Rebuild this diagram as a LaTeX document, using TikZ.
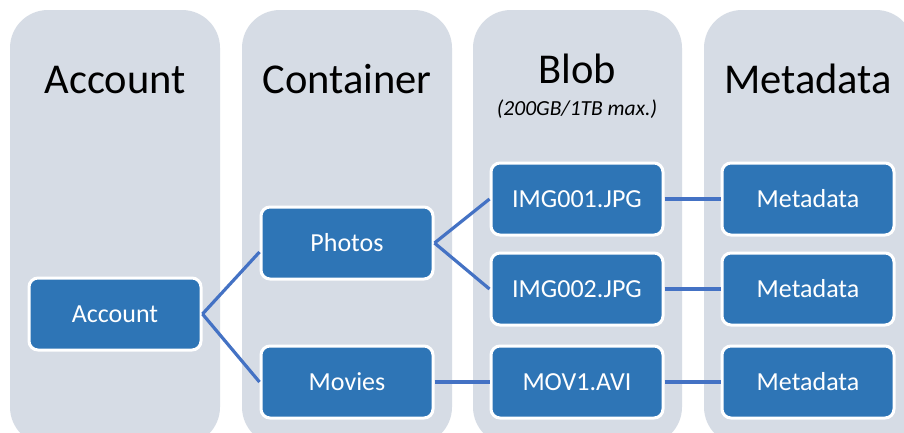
\documentclass[tikz,border=0pt]{standalone}
\usepackage{fontspec}
\setmainfont{Carlito}
\definecolor{colbg}{HTML}{D6DCE5}
\definecolor{nodeblue}{HTML}{2E75B6}
\definecolor{linkblue}{HTML}{4472C4}
\tikzset{
  colbox/.style={fill=colbg, draw=none, rounded corners=38pt},
  header/.style={anchor=base, text=black, font=\fontsize{42.5}{50}\selectfont, inner sep=0pt},
  subhead/.style={anchor=base, text=black, font=\fontsize{21.5}{26}\selectfont\itshape, inner sep=0pt},
  item/.style={rectangle, rounded corners=9pt, fill=nodeblue, draw=white, line width=3pt,
    minimum width=172pt, minimum height=72pt, text=white, font=\fontsize{26}{31}\selectfont, inner sep=0pt},
  link/.style={draw=linkblue, line width=3.2pt}
}
\begin{document}
\begin{tikzpicture}[x=1pt,y=-1pt]
\useasboundingbox (0,0) rectangle (904,432);
\clip (0,0) rectangle (904,432);
\fill[white] (0,0) rectangle (904,432);
% columns
\path[colbox] (10,10) rectangle (220,445);
\path[colbox] (242,10) rectangle (452,445);
\path[colbox] (473,10) rectangle (682,445);
\path[colbox] (704,10) rectangle (914,445);
% headers
\node[header] (hAcc) at (115,93) {Account};
\node[header] (hCon) at (347,93) {Container};
\node[header] (hBlob) at (577,83) {Blob};
\node[subhead] (hSub) at (577,115) {(200GB/1TB max.)};
\node[header] (hMeta) at (808,93) {Metadata};
% nodes
\node[item] (acc) at (115,314) {Account};
\node[item] (ph) at (347,243) {Photos};
\node[item] (mv) at (347,382) {Movies};
\node[item] (i1) at (577,199) {IMG001.JPG};
\node[item] (i2) at (577,289) {IMG002.JPG};
\node[item] (m1) at (577,382) {MOV1.AVI};
\node[item] (md1) at (808,199) {Metadata};
\node[item] (md2) at (808,289) {Metadata};
\node[item] (md3) at (808,382) {Metadata};
% links
\draw[link] (acc.east) -- ([yshift=-9pt]ph.west);
\draw[link] (acc.east) -- (mv.west);
\draw[link] (ph.east) -- (i1.west);
\draw[link] (ph.east) -- (i2.west);
\draw[link] (mv.east) -- (m1.west);
\draw[link] (i1.east) -- (md1.west);
\draw[link] (i2.east) -- (md2.west);
\draw[link] (m1.east) -- (md3.west);
\end{tikzpicture}
\end{document}
